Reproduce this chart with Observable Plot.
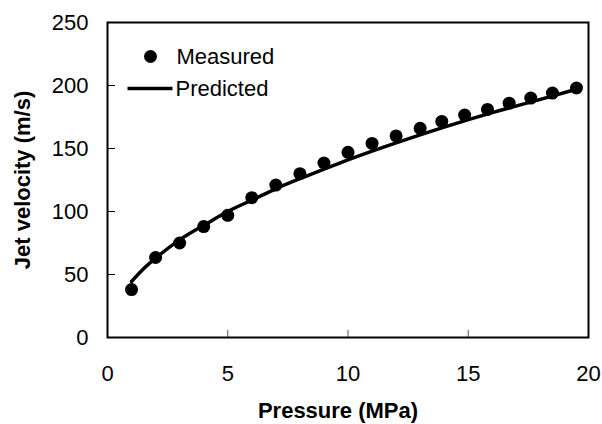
<!DOCTYPE html>
<html>
<head>
<meta charset="utf-8">
<script src="https://cdn.jsdelivr.net/npm/d3@7"></script>
<script src="https://cdn.jsdelivr.net/npm/@observablehq/plot@0.6"></script>
<style>
  body { margin: 0; background: #fff; }
</style>
</head>
<body>
<div id="chart"></div>
<script>
// Measured data points
const measuredPressure = [1, 2, 3, 4, 5, 6, 7, 8, 9, 10, 11, 12, 13, 13.9, 14.85, 15.8, 16.7, 17.6, 18.5, 19.5];
const measuredVelocity = [38, 63.5, 75, 88, 97, 111, 121, 130, 138.5, 147, 154, 160, 166, 171.5, 176.5, 181, 186, 190, 194, 198];

// Predicted curve
const predictedPressure = [1, 1.5, 2, 3, 4, 5, 6, 7, 8, 10, 12, 14, 16, 18, 19.5];
const predictedVelocity = [44.5, 54.5, 63, 77.5, 89, 100, 109, 118, 126, 141, 154.5, 167, 178.5, 189, 197];

// Tick values
const xTicks = [0, 5, 10, 15, 20];
const yTicks = [0, 50, 100, 150, 200, 250];

const measured = measuredPressure.map((p, i) => ({p, v: measuredVelocity[i]}));
const predicted = predictedPressure.map((p, i) => ({p, v: predictedVelocity[i]}));

const lineSymbol = {
  draw(context) {
    context.moveTo(-22.5, 0);
    context.lineTo(22.5, 0);
  }
};

const FS = 22;

const chart = Plot.plot({
  width: 602,
  height: 424,
  marginLeft: 107,
  marginRight: 14,
  marginTop: 22,
  marginBottom: 87,
  style: {fontFamily: "'Liberation Sans', Arial, sans-serif", fontSize: FS + "px", color: "#000", background: "#fff"},
  x: {domain: [0, 20], label: null},
  y: {domain: [0, 250], label: null},
  marks: [
    Plot.axisX(xTicks, {tickSize: 0, tickPadding: 28, fontSize: FS}),
    Plot.axisX(xTicks, {tickSize: -7, tickFormat: () => "", stroke: "#555"}),
    Plot.axisY(yTicks, {tickSize: 0, tickPadding: 19, fontSize: FS}),
    Plot.axisY(yTicks, {tickSize: -8, tickFormat: () => "", stroke: "#000"}),
    Plot.line(predicted, {x: "p", y: "v", curve: "natural", stroke: "#000", strokeWidth: 3.5}),
    Plot.dot(measured, {x: "p", y: "v", r: 6.5, fill: "#000"}),
    Plot.frame({stroke: "#000", strokeWidth: 2}),
    // legend
    Plot.dot([0], {frameAnchor: "top-left", dx: 43, dy: 34, r: 6.5, fill: "#000"}),
    Plot.text(["Measured"], {frameAnchor: "top-left", dx: 69, dy: 34, textAnchor: "start", lineAnchor: "middle", fontSize: FS}),
    Plot.dot([0], {frameAnchor: "top-left", dx: 42.5, dy: 66, symbol: lineSymbol, stroke: "#000", strokeWidth: 3.5, fill: "none"}),
    Plot.text(["Predicted"], {frameAnchor: "top-left", dx: 68, dy: 66, textAnchor: "start", lineAnchor: "middle", fontSize: FS}),
    // axis titles
    Plot.text(["Pressure (MPa)"], {frameAnchor: "bottom", dx: -10, dy: 73, lineAnchor: "middle", fontWeight: "bold", fontSize: FS}),
    Plot.text(["Jet velocity (m/s)"], {frameAnchor: "left", dx: -85, rotate: -90, textAnchor: "middle", lineAnchor: "middle", fontWeight: "bold", fontSize: FS})
  ]
});

document.getElementById("chart").appendChild(chart);
</script>
</body>
</html>
